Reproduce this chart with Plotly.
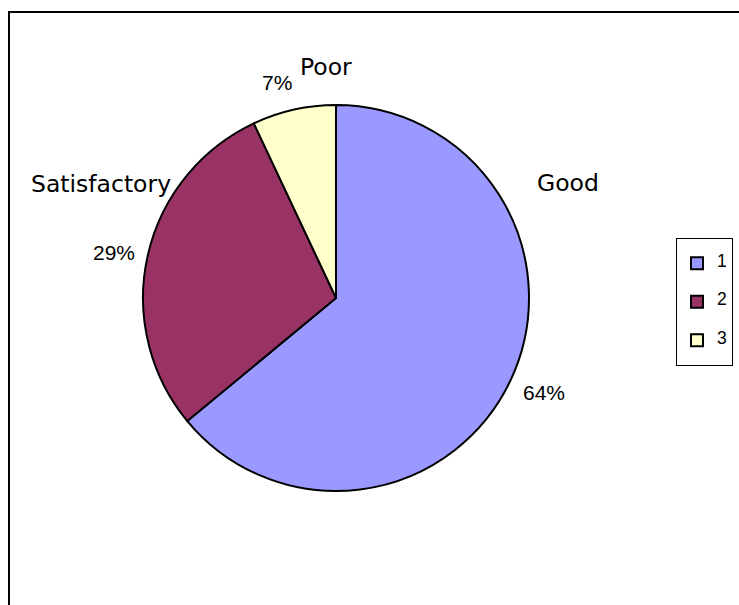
import plotly.graph_objects as go

# ---- data ----
categories = ["Good", "Satisfactory", "Poor"]
legend_labels = ["1", "2", "3"]
values = [64, 29, 7]

# ---- styles / positions ----
colors = ["#9999FF", "#993366", "#FFFFCC"]
W, H = 739, 605
name_pos = [(568, 183), (101, 184), (326, 67)]      # pixel centres of category names
pct_pos = [(544, 392.5), (114, 252.5), (276.5, 83)]  # pixel centres of percentages
pie_box = (143, 105, 529, 491)                        # left, top, right, bottom (px)

def px(x):
    return x / W

def py(y):
    return 1 - y / H

total = sum(values)
pct_text = [f"{round(v / total * 100)}%" for v in values]

# legend entries: middle line holds the visible label (outer blank lines set the row spacing)
leg_text = ["\u00a0<br><span style=\"font-size:17.5px\">%s</span><br>\u00a0" % l for l in legend_labels]

fig = go.Figure(go.Pie(
    labels=leg_text,
    values=values,
    sort=False,
    direction="clockwise",
    rotation=0,
    textinfo="none",
    hoverinfo="skip",
    marker=dict(colors=colors, line=dict(color="black", width=2)),
    domain=dict(x=[px(pie_box[0]), px(pie_box[2])], y=[py(pie_box[3]), py(pie_box[1])]),
    showlegend=True,
))

annotations = []
for name, (x, y) in zip(categories, name_pos):
    annotations.append(dict(x=px(x), y=py(y), xref="paper", yref="paper", text=name,
                            showarrow=False, xanchor="center", yanchor="middle",
                            font=dict(family="DejaVu Sans", size=23.5, color="black")))
for t, (x, y) in zip(pct_text, pct_pos):
    annotations.append(dict(x=px(x), y=py(y), xref="paper", yref="paper", text=t,
                            showarrow=False, xanchor="center", yanchor="middle",
                            font=dict(family="Liberation Sans, Arial", size=21, color="black")))

fig.update_layout(
    width=W, height=H, autosize=False,
    margin=dict(l=0, r=0, t=0, b=0),
    paper_bgcolor="white", plot_bgcolor="white",
    annotations=annotations,
    legend=dict(x=px(676), y=py(238), xanchor="left", yanchor="top",
                bordercolor="black", borderwidth=1, bgcolor="white",
                font=dict(family="Liberation Sans, Arial", size=9.1, color="black"),
                valign="middle"),
    shapes=[dict(type="rect", xref="paper", yref="paper",
                 x0=px(9), y0=py(12), x1=1.2, y1=-0.2,
                 line=dict(color="black", width=2), fillcolor="rgba(0,0,0,0)")],
)

fig.write_html("out.html")
